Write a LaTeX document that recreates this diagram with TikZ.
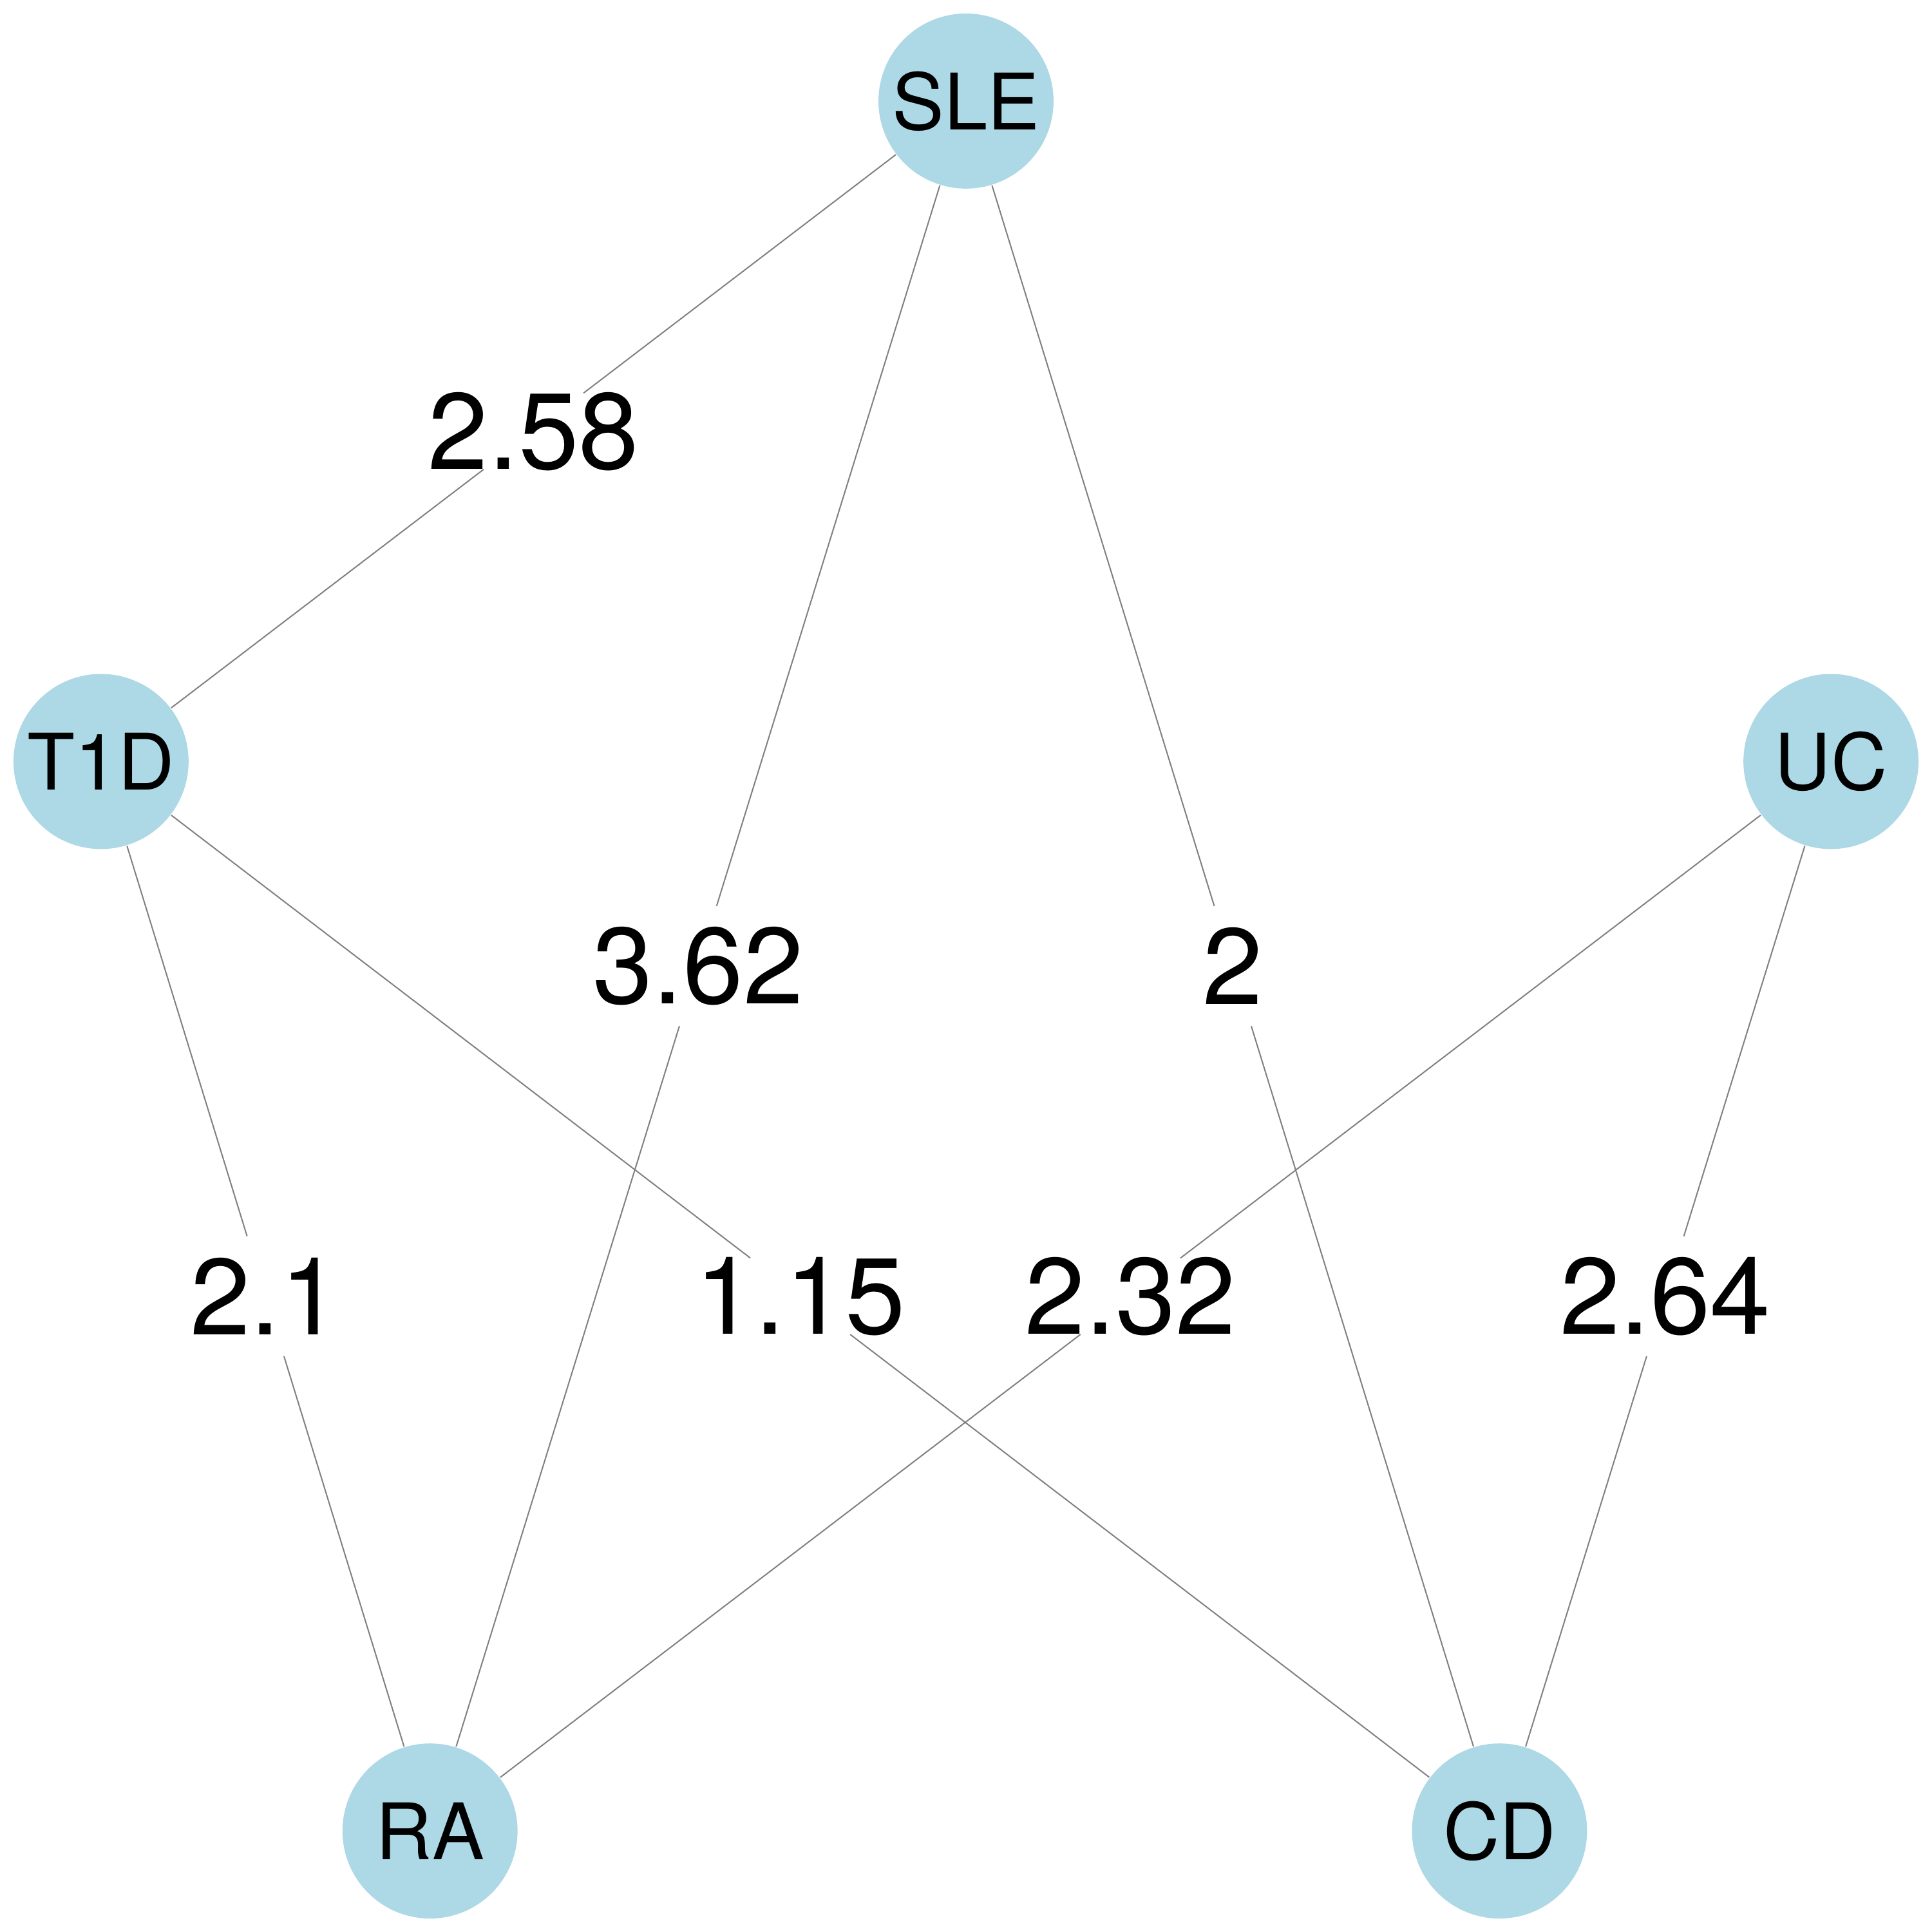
\documentclass[tikz,border=0pt]{standalone}
\usepackage{fontspec}
\setmainfont{TeX Gyre Heros}
\usetikzlibrary{calc}
\definecolor{nodeblue}{RGB}{173,216,230}
\begin{document}
\begin{tikzpicture}[x=0.01cm,y=-0.01cm,
  vert/.style={circle,fill=nodeblue,minimum size=1.42cm,inner sep=0pt,font=\fontsize{18}{18}\selectfont},
  wlabel/.style={font=\fontsize{25}{25}\selectfont,inner sep=0pt},
  edgeline/.style={draw=gray,line width=0.3pt}]
\useasboundingbox (0,0) rectangle (1568,1568);
\node[vert] (SLE) at (784,82) {SLE};
\node[vert] (T1D) at (82,618) {T1D};
\node[vert] (UC) at (1486,618) {UC};
\node[vert] (RA) at (349,1486) {RA};
\node[vert] (CD) at (1217,1486) {CD};
\foreach \a/\b/\w/\n in {SLE/T1D/2.58/m1, SLE/RA/3.62/m2, SLE/CD/2/m3, T1D/RA/2.1/m4, T1D/CD/1.15/m5, UC/RA/2.32/m6, UC/CD/2.64/m7}{
  \coordinate (\n) at ($(\a)!0.5!(\b)$);
  \draw[edgeline,shorten >=0.51cm] (\a) -- (\n);
  \draw[edgeline,shorten <=0.51cm] (\n) -- (\b);
  \node[wlabel] (l\n) at (\n) {\w};
}
\end{tikzpicture}
\end{document}
